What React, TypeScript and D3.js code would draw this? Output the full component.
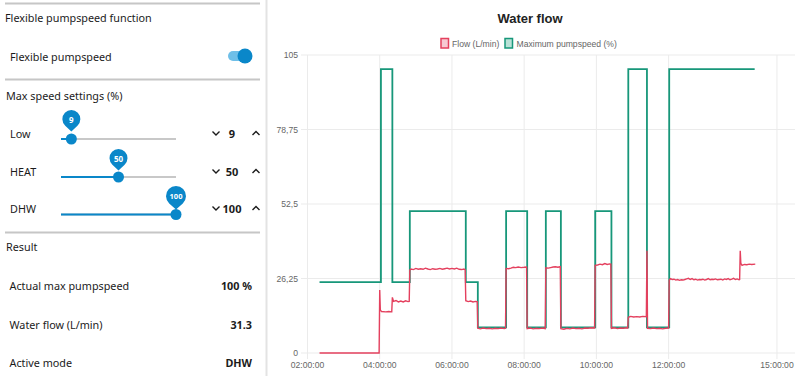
import React from 'react';
import * as d3 from 'd3';

const chartTitle = 'Water flow';
const legendLabels = ['Flow (L/min)', 'Maximum pumpspeed (%)'];
const yTicks = [0, 26.25, 52.5, 78.75, 105];
const xTickTimes = ['02:00', '04:00', '06:00', '08:00', '10:00', '12:00', '15:00'];
const xDomain = ['02:00', '15:30'];

const pumpData: [string, number][] = [
  ['02:20', 25], ['04:02', 100], ['04:21', 25], ['04:50', 50], ['06:23', 25], ['06:43', 9],
  ['07:30', 50], ['08:05', 9], ['08:36', 50], ['09:01', 9], ['09:58', 50], ['10:25', 9],
  ['10:53', 100], ['11:24', 9], ['12:01', 100], ['14:23', 100],
];

const flowData: [string, number][] = [
  ['02:20', 0], ['03:59', 0], ['04:00', 22.2], ['04:01', 15.2], ['04:03', 14.6], ['04:10', 14.5], ['04:15', 14.6], ['04:20', 14.5],
  ['04:21', 19.6], ['04:23', 18.2], ['04:27', 18.5], ['04:31', 18.0], ['04:35', 18.3], ['04:39', 18.0], ['04:43', 18.4], ['04:47', 18.1], ['04:49', 18.2],
  ['04:50', 29.2], ['04:52', 29.6], ['04:56', 29.4], ['05:00', 29.8], ['05:04', 29.5], ['05:08', 29.7], ['05:12', 29.5], ['05:16', 29.9],
  ['05:20', 29.6], ['05:24', 29.4], ['05:28', 29.7], ['05:32', 29.5], ['05:36', 29.6], ['05:40', 29.8], ['05:44', 29.5], ['05:48', 29.7],
  ['05:52', 29.9], ['05:56', 29.6], ['06:00', 29.8], ['06:04', 29.6], ['06:08', 29.9], ['06:12', 29.5], ['06:16', 29.4], ['06:20', 29.6], ['06:22', 29.3],
  ['06:23', 18.4], ['06:27', 18.1], ['06:31', 18.3], ['06:35', 18.0], ['06:39', 18.2], ['06:42', 18.1],
  ['06:43', 8.7], ['06:47', 8.5], ['06:52', 8.8], ['06:57', 8.6], ['07:02', 8.7], ['07:07', 8.5], ['07:12', 8.7], ['07:17', 8.6], ['07:22', 8.8], ['07:27', 8.6], ['07:29', 8.7],
  ['07:30', 29.8], ['07:34', 29.7], ['07:38', 29.9], ['07:42', 30.2], ['07:46', 30.1], ['07:50', 30.3], ['07:55', 30.1], ['08:00', 30.2], ['08:04', 30.3],
  ['08:05', 8.6], ['08:10', 8.8], ['08:15', 8.5], ['08:20', 8.7], ['08:25', 8.6], ['08:30', 8.8], ['08:35', 8.6],
  ['08:36', 30.0], ['08:40', 29.9], ['08:44', 30.1], ['08:48', 30.3], ['08:52', 30.4], ['08:56', 30.2], ['09:00', 30.4],
  ['09:01', 8.6], ['09:06', 8.4], ['09:11', 8.7], ['09:16', 8.5], ['09:21', 8.8], ['09:26', 8.6], ['09:31', 8.7], ['09:36', 8.5], ['09:41', 8.8], ['09:46', 8.7], ['09:51', 8.9], ['09:57', 8.8],
  ['09:58', 30.9], ['10:02', 31.0], ['10:06', 31.3], ['10:10', 31.1], ['10:14', 31.5], ['10:18', 31.2], ['10:22', 31.4], ['10:24', 31.3],
  ['10:25', 8.7], ['10:30', 8.9], ['10:35', 8.6], ['10:40', 8.8], ['10:45', 8.7], ['10:50', 8.9], ['10:52', 8.8],
  ['10:53', 12.6], ['10:57', 12.9], ['11:02', 12.7], ['11:07', 12.8], ['11:12', 12.7], ['11:17', 12.9], ['11:23', 12.8],
  ['11:24', 36.0], ['11:25', 8.7], ['11:30', 8.6], ['11:35', 8.8], ['11:40', 8.6], ['11:45', 8.7], ['11:50', 8.5], ['11:55', 8.7], ['12:00', 8.8],
  ['12:01', 25.6], ['12:03', 26.2], ['12:06', 25.9], ['12:09', 26.0], ['12:12', 25.7], ['12:15', 25.9], ['12:18', 25.6], ['12:21', 25.8],
  ['12:24', 25.7], ['12:27', 25.9], ['12:30', 26.1], ['12:33', 26.3], ['12:36', 25.9], ['12:39', 26.2], ['12:42', 25.8], ['12:45', 26.0],
  ['12:48', 25.7], ['12:51', 25.9], ['12:54', 25.8], ['12:57', 26.0], ['13:00', 25.7], ['13:03', 25.9], ['13:06', 26.2], ['13:09', 25.8],
  ['13:12', 26.0], ['13:15', 25.9], ['13:18', 26.1], ['13:21', 25.8], ['13:24', 25.9], ['13:27', 26.0], ['13:30', 25.7], ['13:33', 26.1],
  ['13:36', 25.9], ['13:39', 26.2], ['13:42', 25.8], ['13:45', 26.0], ['13:48', 26.3], ['13:51', 25.9], ['13:54', 26.1], ['13:57', 25.8], ['13:58', 25.9],
  ['13:59', 36.0], ['14:00', 31.6], ['14:02', 30.9], ['14:06', 31.2], ['14:10', 31.1], ['14:14', 31.3], ['14:18', 31.2], ['14:24', 31.3],
];

const panelTitle = 'Flexible pumpspeed function';
const toggleLabel = 'Flexible pumpspeed';
const settingsTitle = 'Max speed settings (%)';
const sliderLabels = ['Low', 'HEAT', 'DHW'];
const sliderValues = [9, 50, 100];
const resultTitle = 'Result';
const resultLabels = ['Actual max pumpspeed', 'Water flow (L/min)', 'Active mode'];
const resultValues = ['100 %', '31.3', 'DHW'];

const parseT = (s: string) => {
  const [h, m] = s.split(':').map(Number);
  return new Date(2024, 0, 1, h, m);
};

const BLUE = '#0a87c9';
const GREEN = '#17977a';
const RED = '#e4405e';
const UI_FONT = '"Noto Sans", sans-serif';
const CH_FONT = '"Liberation Sans", Arial, sans-serif';

export default function App() {
  const x = d3.scaleTime().domain(xDomain.map(parseT)).range([307.5, 795]);
  const y = d3.scaleLinear().domain([0, 105]).range([353, 55]);
  const sx = d3.scaleLinear().domain([0, 100]).range([61, 176]);

  const line = d3
    .line<[string, number]>()
    .x((d) => x(parseT(d[0])))
    .y((d) => y(d[1]));
  const stepLine = d3
    .line<[string, number]>()
    .x((d) => x(parseT(d[0])))
    .y((d) => y(d[1]))
    .curve(d3.curveStepAfter);

  const fmtY = (v: number) => String(v).replace('.', ',');
  const fmtX = d3.timeFormat('%H:%M:%S');

  const sliderRowY = [133, 171, 208];
  const trackY = [139, 177, 214.5];
  const bubbleY = [119, 158, 196];
  const resultY = [285, 324, 362];

  const pin = (cx: number, cy: number, r: number) =>
    `M${cx},${cy + r + 3.5} L${cx - r * 0.68},${cy + r * 0.74} A${r},${r} 0 1 1 ${cx + r * 0.68},${cy + r * 0.74} Z`;

  return (
    <svg width={800} height={376} style={{ position: 'absolute', left: 0, top: 0, background: '#fff' }}>
      {/* Left panel */}
      <g fontFamily={UI_FONT} fill="#1b1b1b">
        <line x1={5} x2={260} y1={3.5} y2={3.5} stroke="#c6c6c6" strokeWidth={2} />
        <text x={5} y={17.5} fontSize={10.8} dominantBaseline="central">{panelTitle}</text>
        <text x={10} y={56} fontSize={10.8} dominantBaseline="central">{toggleLabel}</text>
        <rect x={228} y={51} width={20} height={10} rx={5} fill="#6fbfe8" />
        <circle cx={245} cy={56} r={7.5} fill={BLUE} />
        <line x1={5} x2={260} y1={79.5} y2={79.5} stroke="#c6c6c6" strokeWidth={2} />
        <text x={6} y={95} fontSize={10.8} dominantBaseline="central">{settingsTitle}</text>

        {sliderLabels.map((lab, i) => {
          const kx = sx(sliderValues[i]);
          const r = sliderValues[i] >= 100 ? 10 : 9;
          return (
            <g key={lab}>
              <text x={10} y={sliderRowY[i]} fontSize={10.8} dominantBaseline="central">{lab}</text>
              <line x1={sx(0)} x2={sx(100)} y1={trackY[i]} y2={trackY[i]} stroke="#c8c8c8" strokeWidth={2} />
              <line x1={sx(0)} x2={kx} y1={trackY[i]} y2={trackY[i]} stroke={BLUE} strokeWidth={2} />
              <circle cx={kx} cy={trackY[i]} r={5.5} fill={BLUE} />
              <path d={pin(kx, bubbleY[i], r)} fill={BLUE} />
              <text x={kx} y={bubbleY[i]} fontSize={sliderValues[i] >= 100 ? 7.5 : 8} fontWeight="bold" fill="#fff" textAnchor="middle" dominantBaseline="central">
                {sliderValues[i]}
              </text>
              <path d={`M212.5,${sliderRowY[i] - 1.5} L216,${sliderRowY[i] + 2} L219.5,${sliderRowY[i] - 1.5}`} fill="none" stroke="#1b1b1b" strokeWidth={1.4} />
              <text x={232} y={sliderRowY[i]} fontSize={11} fontWeight="bold" textAnchor="middle" dominantBaseline="central">{sliderValues[i]}</text>
              <path d={`M252.5,${sliderRowY[i] + 2} L256,${sliderRowY[i] - 1.5} L259.5,${sliderRowY[i] + 2}`} fill="none" stroke="#1b1b1b" strokeWidth={1.4} />
            </g>
          );
        })}

        <line x1={5} x2={260} y1={232.5} y2={232.5} stroke="#c6c6c6" strokeWidth={2} />
        <text x={6} y={246} fontSize={10.8} dominantBaseline="central">{resultTitle}</text>
        {resultLabels.map((lab, i) => (
          <g key={lab}>
            <text x={9.5} y={resultY[i]} fontSize={10.8} dominantBaseline="central">{lab}</text>
            <text x={252} y={resultY[i]} fontSize={10.8} fontWeight="bold" textAnchor="end" dominantBaseline="central">{resultValues[i]}</text>
          </g>
        ))}
      </g>
      <line x1={266.5} x2={266.5} y1={0} y2={376} stroke="#e3e3e3" strokeWidth={2} />

      {/* Chart */}
      <text x={530} y={18} fontFamily={CH_FONT} fontSize={13} fontWeight="bold" fill="#222" textAnchor="middle" dominantBaseline="central">
        {chartTitle}
      </text>
      <g fontFamily={CH_FONT} fontSize={8.6} fill="#666">
        <rect x={441} y={38.5} width={7.5} height={9.5} fill="#f7c9d2" stroke={RED} strokeWidth={1.5} />
        <text x={452} y={43.5} dominantBaseline="central">{legendLabels[0]}</text>
        <rect x={505} y={38.5} width={7.5} height={9.5} fill="#b9e2d7" stroke={GREEN} strokeWidth={1.5} />
        <text x={516.5} y={43.5} dominantBaseline="central">{legendLabels[1]}</text>
      </g>

      <g>
        {yTicks.map((t) => (
          <line key={'gy' + t} x1={301} x2={795} y1={y(t)} y2={y(t)} stroke="#ebebeb" strokeWidth={1} />
        ))}
        {xTickTimes.map((t) => (
          <line key={'gx' + t} x1={x(parseT(t))} x2={x(parseT(t))} y1={y(105)} y2={359} stroke="#ebebeb" strokeWidth={1} />
        ))}
      </g>
      <g fontFamily={CH_FONT} fontSize={8.6} fill="#666">
        {yTicks.map((t) => (
          <text key={'ty' + t} x={298} y={y(t)} textAnchor="end" dominantBaseline="central">{fmtY(t)}</text>
        ))}
        {xTickTimes.map((t) => (
          <text key={'tx' + t} x={x(parseT(t))} y={364.5} textAnchor="middle" dominantBaseline="central">{fmtX(parseT(t))}</text>
        ))}
      </g>

      <path d={stepLine(pumpData) || ''} fill="none" stroke={GREEN} strokeWidth={1.8} />
      <path d={line(flowData) || ''} fill="none" stroke={RED} strokeWidth={1.4} />
    </svg>
  );
}
